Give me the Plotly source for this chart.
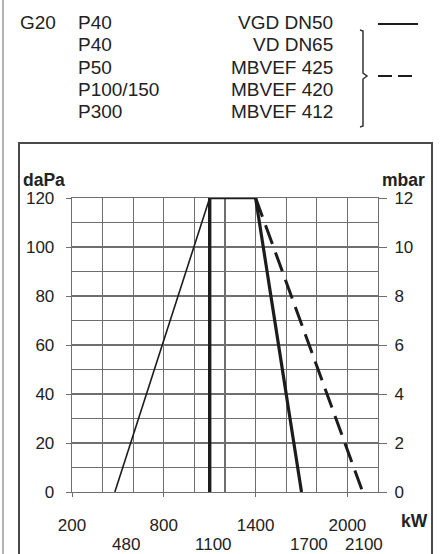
import plotly.graph_objects as go

# ---------------- data ----------------
gas = "G20"
burner_models = ["P40", "P40", "P50", "P100/150", "P300"]
valve_trains = ["VGD DN50", "VD DN65", "MBVEF 425", "MBVEF 420", "MBVEF 412"]

# working field (kW, daPa)
min_kw = [480, 1100]
min_dapa = [0, 120]
start_kw = [1100, 1100]
start_dapa = [0, 120]
top_kw = [1100, 1400]
top_dapa = [120, 120]
max_solid_kw = [1400, 1700]
max_solid_dapa = [120, 0]
max_dashed_kw = [1400, 2100]
max_dashed_dapa = [120, 0]

x_tick_vals = [200, 800, 1400, 2000]
x_second_row = [480, 1100, 1700, 2100]
x_second_shift = [11, 4, 7, 1]
dapa_ticks = [0, 20, 40, 60, 80, 100, 120]
mbar_ticks = [0, 2, 4, 6, 8, 10, 12]

# ---------------- layout geometry ----------------
W, H = 442, 554
L, R, T, B = 72, 378, 198, 492
FONT = "Liberation Sans, Arial, sans-serif"
INK = "#1c1c1c"
GRID = "#6f6f6f"


def px(x):
    return (x - L) / (R - L)


def py(y):
    return (B - y) / (B - T)


fig = go.Figure()

line_specs = [
    (min_kw, min_dapa, 1.6, "solid"),
    (start_kw, start_dapa, 3.4, "solid"),
    (top_kw, top_dapa, 2.4, "solid"),
    (max_solid_kw, max_solid_dapa, 3.2, "solid"),
    (max_dashed_kw, max_dashed_dapa, 3.0, "20px,9px"),
]
for xs, ys, w, d in line_specs:
    fig.add_trace(go.Scatter(x=xs, y=ys, mode="lines",
                             line=dict(color=INK, width=w, dash=d),
                             hoverinfo="skip", showlegend=False))

# invisible trace to carry the mbar axis
fig.add_trace(go.Scatter(x=[x_tick_vals[0]], y=[mbar_ticks[0]], yaxis="y2",
                         mode="markers", marker=dict(opacity=0),
                         hoverinfo="skip", showlegend=False))

tick_font = dict(family=FONT, size=17, color="#222")

fig.update_layout(
    width=W, height=H,
    margin=dict(l=L, r=W - R, t=T, b=H - B, pad=0),
    paper_bgcolor="white", plot_bgcolor="white",
    showlegend=False,
    xaxis=dict(range=[200, 2200], tickvals=x_tick_vals,
               ticks="outside", ticklen=4, tickcolor=GRID, tickwidth=1,
               ticklabelstandoff=13,
               showgrid=True, gridcolor=GRID, gridwidth=1.3,
               minor=dict(dtick=200, tick0=200, showgrid=True,
                          gridcolor=GRID, gridwidth=1.3),
               showline=True, linecolor=GRID, linewidth=1.3, mirror=True,
               zeroline=False, tickfont=tick_font, fixedrange=True),
    yaxis=dict(range=[0, 120], tickvals=dapa_ticks,
               ticks="outside", ticklen=5, tickcolor=GRID, tickwidth=1,
               ticklabelstandoff=8,
               showgrid=True, gridcolor=GRID, gridwidth=1.3,
               minor=dict(dtick=10, tick0=0, showgrid=True,
                          gridcolor=GRID, gridwidth=1.3),
               showline=True, linecolor=GRID, linewidth=1.3, mirror=True,
               zeroline=False, tickfont=tick_font, fixedrange=True),
    yaxis2=dict(range=[0, 12], tickvals=mbar_ticks, overlaying="y",
                side="right", ticks="outside", ticklen=8, tickcolor=GRID,
                tickwidth=1, ticklabelstandoff=4, showgrid=False,
                zeroline=False, showline=False, tickfont=tick_font,
                fixedrange=True),
)

ann = []
# second row of x labels
for v, s in zip(x_second_row, x_second_shift):
    ann.append(dict(x=v, y=py(544), xref="x", yref="paper", text=str(v),
                    showarrow=False, xshift=s, font=tick_font,
                    xanchor="center", yanchor="middle"))
# axis unit labels
unit_font = dict(family=FONT, size=17.5, color="#222")
ann.append(dict(x=px(414), y=py(521), xref="paper", yref="paper",
                text="<b>kW</b>", showarrow=False, font=unit_font,
                xanchor="center", yanchor="middle"))
ann.append(dict(x=px(21), y=py(180), xref="paper", yref="paper",
                text="<b>daPa</b>", showarrow=False, font=unit_font,
                xanchor="left", yanchor="middle"))
ann.append(dict(x=px(427), y=py(180), xref="paper", yref="paper",
                text="<b>mbar</b>", showarrow=False, font=unit_font,
                xanchor="right", yanchor="middle"))

# header block
head_font = dict(family=FONT, size=19, color="#222")
row_y = [22, 44.5, 67, 89.5, 112]
ann.append(dict(x=px(18), y=py(row_y[0]), xref="paper", yref="paper",
                text=gas, showarrow=False, font=head_font,
                xanchor="left", yanchor="middle"))
for i, (m, v) in enumerate(zip(burner_models, valve_trains)):
    ann.append(dict(x=px(76), y=py(row_y[i]), xref="paper", yref="paper",
                    text=m, showarrow=False, font=head_font,
                    xanchor="left", yanchor="middle"))
    ann.append(dict(x=px(335), y=py(row_y[i]), xref="paper", yref="paper",
                    text=v, showarrow=False, font=head_font,
                    xanchor="right", yanchor="middle"))
fig.update_layout(annotations=ann)

shapes = []
# outer left rule
shapes.append(dict(type="line", xref="paper", yref="paper",
                   x0=px(3), x1=px(3), y0=py(0), y1=py(H),
                   line=dict(color="#9a9a9a", width=1.5)))
# chart frame
shapes.append(dict(type="rect", xref="paper", yref="paper",
                   x0=px(19), x1=px(432), y0=py(143), y1=py(H + 5),
                   line=dict(color="#4a4a4a", width=2)))
# legend: solid sample
shapes.append(dict(type="line", xref="paper", yref="paper",
                   x0=px(378), x1=px(418), y0=py(24), y1=py(24),
                   line=dict(color=INK, width=2)))
# legend: dashed sample
shapes.append(dict(type="line", xref="paper", yref="paper",
                   x0=px(378), x1=px(418), y0=py(76), y1=py(76),
                   line=dict(color=INK, width=2.2, dash="14px,6px")))
# brace
bx = 363
brace = (f"M {px(bx-3)},{py(30)} L {px(bx)},{py(31)} L {px(bx)},{py(73)} "
         f"L {px(bx+4)},{py(76)} L {px(bx)},{py(79)} L {px(bx)},{py(126)} "
         f"L {px(bx-3)},{py(127)}")
shapes.append(dict(type="path", xref="paper", yref="paper", path=brace,
                   line=dict(color="#333", width=1.5)))
fig.update_layout(shapes=shapes)

fig.write_html("out.html",
               config={"displayModeBar": False, "staticPlot": True},
               post_script="document.body.style.margin='0';"
                           "document.body.style.overflow='hidden';")
